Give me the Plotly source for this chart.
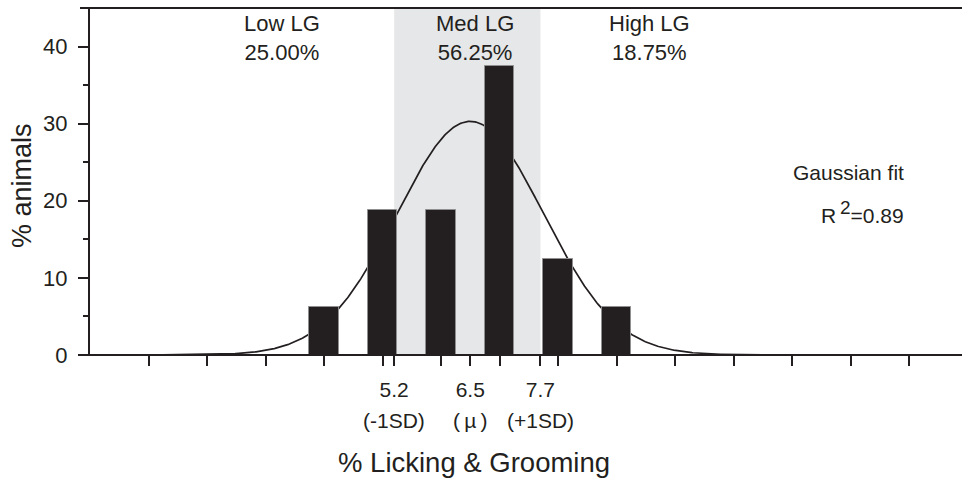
import numpy as np
import plotly.graph_objects as go

# Share of animals (%) in each licking & grooming bin (bin centres)
bin_centres = [4, 5, 6, 7, 8, 9]
pct_animals = [6.25, 18.75, 18.75, 37.5, 12.5, 6.25]

# Gaussian fit to the distribution
fit_amp = 30.3
fit_mean = 6.5
fit_sd = 1.25
fit_r2 = 0.89

# Group cut-offs: mean - 1 SD, mean, mean + 1 SD
sd_ticks = [5.2, 6.5, 7.7]
sd_tick_text = ["5.2", "6.5", "7.7"]
sd_tick_sub = ["(-1SD)", "(\u2009\u00b5\u2009)", "(+1SD)"]

major_ticks = list(range(1, 15))
y_ticks = [0, 10, 20, 30, 40]

INK = "#231f20"
SHADE = "#e6e7e8"
FONT = "Arial, 'Liberation Sans', Helvetica, sans-serif"

low_cut, high_cut = sd_ticks[0], sd_ticks[2]
low_pct = sum(p for c, p in zip(bin_centres, pct_animals) if c < low_cut)
med_pct = sum(p for c, p in zip(bin_centres, pct_animals) if low_cut <= c <= high_cut)
high_pct = sum(p for c, p in zip(bin_centres, pct_animals) if c > high_cut)

x_curve = np.linspace(1, 14, 800)
y_curve = fit_amp * np.exp(-((x_curve - fit_mean) ** 2) / (2 * fit_sd ** 2))

X_RANGE = [0, 872 / 58.5]
Y_RANGE = [0, 45]

fig = go.Figure()

# fitted curve sits on the base subplot, bars on an overlay so they cover it
fig.add_trace(go.Scatter(
    x=x_curve, y=y_curve, mode="lines",
    line=dict(color=INK, width=1.7), hoverinfo="skip", showlegend=False,
))
fig.add_trace(go.Bar(
    x=bin_centres, y=pct_animals, width=0.5,
    marker=dict(color=INK, line=dict(color="#8f8f8f", width=1)),
    xaxis="x2", yaxis="y2", showlegend=False,
))

fig.update_layout(
    width=962, height=484,
    margin=dict(l=90, r=0, t=8, b=129),
    plot_bgcolor="white", paper_bgcolor="white",
    font=dict(family=FONT, color=INK, size=21),
    bargap=0,
    xaxis=dict(
        range=X_RANGE, tickmode="array", tickvals=sd_ticks, ticktext=sd_tick_text,
        ticks="outside", ticklen=10, tickwidth=1.6, tickcolor=INK,
        minor=dict(tickmode="array", tickvals=major_ticks, ticks="outside",
                   ticklen=10, tickwidth=1.6, tickcolor=INK),
        showline=False, showgrid=False, zeroline=False,
        tickfont=dict(size=21, color=INK), ticklabelstandoff=6,
    ),
    yaxis=dict(
        range=Y_RANGE, tickmode="array", tickvals=y_ticks,
        ticks="outside", ticklen=10, tickwidth=1.6, tickcolor=INK,
        minor=dict(dtick=5, tick0=0, ticks="outside", ticklen=5,
                   tickwidth=1.6, tickcolor=INK),
        showline=True, linewidth=2, linecolor=INK,
        showgrid=False, zeroline=False,
        tickfont=dict(size=22, color=INK), ticklabelstandoff=6,
    ),
    xaxis2=dict(range=X_RANGE, overlaying="x", visible=False),
    yaxis2=dict(range=Y_RANGE, overlaying="y", visible=False),
)

# Med LG band (mean ± 1 SD)
fig.add_shape(type="rect", xref="x", yref="y", x0=low_cut, x1=high_cut,
              y0=Y_RANGE[0], y1=Y_RANGE[1], fillcolor=SHADE,
              line=dict(width=0), layer="below")

# bottom axis line and top frame line, both extending slightly past the y axis
for yy in (0, 1):
    fig.add_shape(type="line", xref="paper", yref="paper",
                  x0=-10 / 872, x1=1, y0=yy, y1=yy,
                  line=dict(color=INK, width=2.2), layer="above")

group_labels = [
    (3.29, f"Low LG<br>{low_pct:.2f}%"),
    (6.58, f"Med LG<br>{med_pct:.2f}%"),
    (9.57, f"High LG<br>{high_pct:.2f}%"),
]
for gx, txt in group_labels:
    fig.add_annotation(x=gx, y=41.1, xref="x", yref="y", text=txt,
                       showarrow=False, font=dict(size=22, color=INK),
                       xanchor="center", yanchor="middle")

fig.add_annotation(x=12.96, y=23.7, xref="x", yref="y", text="Gaussian fit",
                   showarrow=False, font=dict(size=21, color=INK))
fig.add_annotation(x=13.2, y=18.6, xref="x", yref="y",
                   text=("R<sup><span style='font-size:19px'>\u2009"
                         f"2</span></sup>={fit_r2:.2f}"),
                   showarrow=False, font=dict(size=21, color=INK))

for sx, sub in zip(sd_ticks, sd_tick_sub):
    fig.add_annotation(x=sx, y=-0.19, xref="x", yref="paper", text=sub,
                       showarrow=False, font=dict(size=21, color=INK),
                       xanchor="center", yanchor="middle")

fig.add_annotation(x=0.44, y=-0.31, xref="paper", yref="paper",
                   text="% Licking & Grooming", showarrow=False,
                   font=dict(size=27.5, color=INK), yanchor="middle")
fig.add_annotation(x=-0.078, y=0.49, xref="paper", yref="paper",
                   text="% animals", textangle=-90, showarrow=False,
                   font=dict(size=27, color=INK), xanchor="center",
                   yanchor="middle")

fig.write_html("out.html")
